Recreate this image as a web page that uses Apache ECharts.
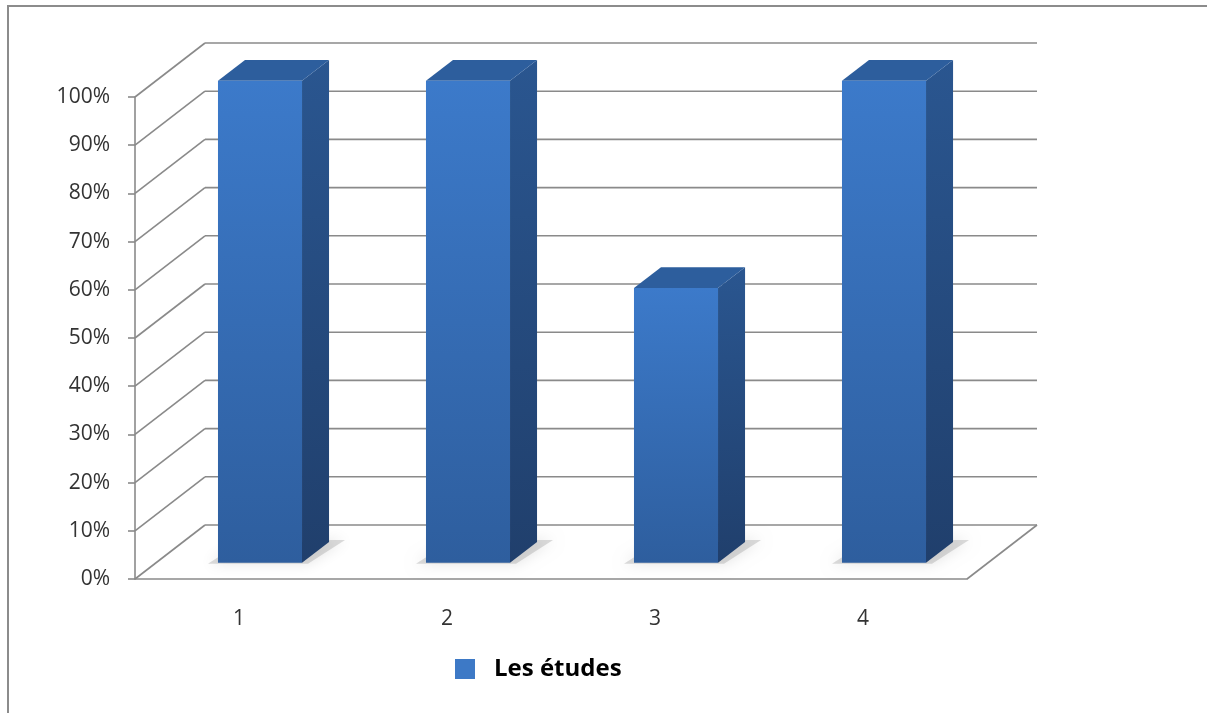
<!DOCTYPE html>
<html>
<head>
<meta charset="utf-8">
<title>Les études</title>
<script src="https://cdn.jsdelivr.net/npm/echarts@6/dist/echarts.min.js"></script>
<style>
  html, body { margin: 0; padding: 0; background: #fff; }
  #chart { width: 1207px; height: 713px; }
</style>
</head>
<body>
<div id="chart"></div>
<script>
// categories on the x axis
const categories = ['1', '2', '3', '4'];
// bar values (%)
const values = [100, 100, 57, 100];
// y axis ticks
const yTicks = [0, 10, 20, 30, 40, 50, 60, 70, 80, 90, 100];
const seriesName = 'Les études';

// depth of the 3D box (px)
const DX = 70, DY = -54;
// where the bar sits inside the depth
const F1 = 0.3, F2 = 0.686;

const gridColor = '#8a8a8a';
const labelFont = 'Open Sans';

const chart = echarts.init(document.getElementById('chart'));

// back wall gridlines + diagonals on the left wall
function renderFrame(params, api) {
  const cs = params.coordSys;
  const v = api.value(1);
  const y = api.coord([0, v])[1];
  const x0 = cs.x, x1 = cs.x + cs.width;
  const ls = { stroke: gridColor, lineWidth: 1.6 };
  const children = [
    { type: 'line', shape: { x1: x0, y1: y, x2: x0 + DX, y2: y + DY }, style: ls },
    { type: 'line', shape: { x1: x0 + DX, y1: y + DY, x2: x1 + DX, y2: y + DY }, style: ls }
  ];
  if (v === 0) {
    // right edge of the floor
    children.push({ type: 'line', shape: { x1: x1, y1: y, x2: x1 + DX, y2: y + DY }, style: ls });
  }
  return { type: 'group', children: children };
}

// 3D bar
function renderBar(params, api) {
  const base = api.coord([api.value(0), 0]);
  const top = api.coord([api.value(0), api.value(1)]);
  const bw = api.size([1, 0])[0] * 0.404;
  const x0 = base[0] + F1 * DX - bw / 2, x1 = x0 + bw;
  const yb = base[1] + F1 * DY, yt = top[1] + F1 * DY;
  const ox = (F2 - F1) * DX, oy = (F2 - F1) * DY;
  return {
    type: 'group',
    children: [
      // floor shadow
      {
        type: 'polygon',
        shape: { points: [[x0 - 10, yb + 1], [x1 + 6, yb + 1], [x1 + ox + 16, yb + oy - 2], [x0 + ox, yb + oy - 2]] },
        style: { fill: 'rgba(140,140,140,0.3)', shadowBlur: 14, shadowColor: 'rgba(0,0,0,0.35)' }
      },
      // side face
      {
        type: 'polygon',
        shape: { points: [[x1, yt], [x1 + ox, yt + oy], [x1 + ox, yb + oy], [x1, yb]] },
        style: { fill: new echarts.graphic.LinearGradient(0, 0, 0, 1, [
          { offset: 0, color: '#2A5690' }, { offset: 1, color: '#203F6C' }]) }
      },
      // top face
      {
        type: 'polygon',
        shape: { points: [[x0, yt], [x0 + ox, yt + oy], [x1 + ox, yt + oy], [x1, yt]] },
        style: { fill: '#2D5E9D' }
      },
      // front face
      {
        type: 'rect',
        shape: { x: x0, y: yt, width: bw, height: yb - yt },
        style: { fill: new echarts.graphic.LinearGradient(0, 0, 0, 1, [
          { offset: 0, color: '#3C7ACA' }, { offset: 1, color: '#2E5E9E' }]) }
      }
    ]
  };
}

const option = {
  animation: false,
  backgroundColor: '#fff',
  graphic: [{
    type: 'rect',
    shape: { x: 8, y: 6, width: 1300, height: 800 },
    style: { fill: 'none', stroke: '#8c8c8c', lineWidth: 2 },
    z: -1
  }],
  legend: {
    data: [seriesName],
    left: 450,
    top: 652,
    icon: 'rect',
    itemWidth: 20,
    itemHeight: 20,
    textStyle: { fontFamily: labelFont, fontWeight: 'bold', fontSize: 24, color: '#000', padding: [0, 0, 0, 14] }
  },
  grid: { left: 135, top: 97, width: 832, height: 482 },
  xAxis: {
    type: 'category',
    data: categories,
    axisLine: { lineStyle: { color: gridColor, width: 1.6 } },
    axisTick: { length: 7, lineStyle: { color: gridColor, width: 1.6 } },
    axisLabel: { margin: 30, fontSize: 21, fontFamily: labelFont, color: '#333' }
  },
  yAxis: {
    type: 'value',
    min: 0,
    max: 100,
    interval: 10,
    axisLine: { show: true, lineStyle: { color: gridColor, width: 1.6 } },
    axisTick: { show: true, length: 7, lineStyle: { color: gridColor, width: 1.6 } },
    splitLine: { show: false },
    axisLabel: { formatter: '{value}%', margin: 25, fontSize: 21, fontFamily: labelFont, color: '#333' }
  },
  series: [
    {
      type: 'custom',
      name: 'frame',
      renderItem: renderFrame,
      data: yTicks.map(function (v) { return [0, v]; }),
      silent: true,
      z: 1
    },
    {
      type: 'custom',
      name: seriesName,
      renderItem: renderBar,
      data: values.map(function (v, i) { return [i, v]; }),
      itemStyle: { color: '#3D79C6' },
      z: 3
    }
  ]
};

chart.setOption(option);
</script>
</body>
</html>
